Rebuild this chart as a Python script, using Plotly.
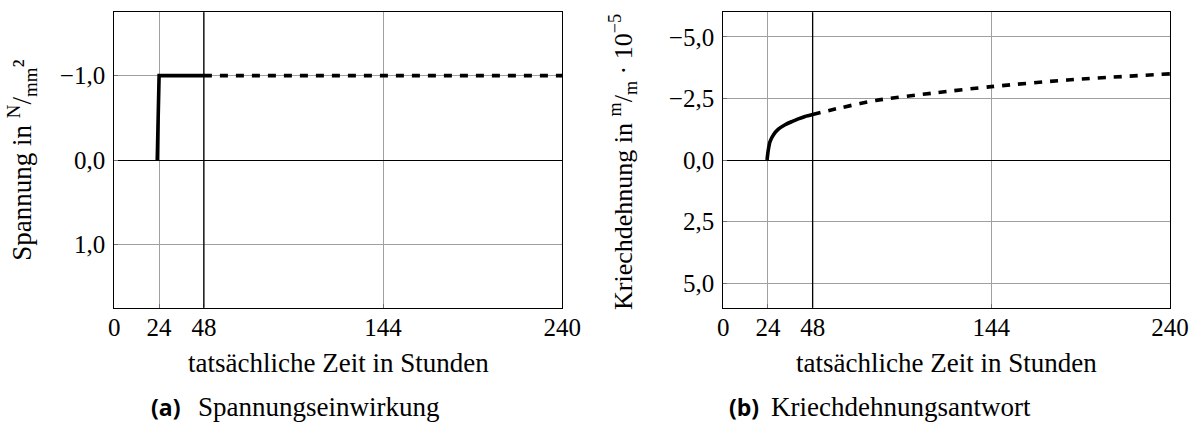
import plotly.graph_objects as go

# ---- data ----
x_tickvals = [0, 24, 48, 144, 240]
x_ticktext = ["0", "24", "48", "144", "240"]

stress_tickvals = [-1.0, 0.0, 1.0]
stress_ticktext = ["\u22121,0", "0,0", "1,0"]

creep_tickvals = [-5.0, -2.5, 0.0, 2.5, 5.0]
creep_ticktext = ["\u22125,0", "\u22122,5", "0,0", "2,5", "5,0"]

stress_t_solid = [23, 24, 48]
stress_solid = [0.0, -1.0, -1.0]
stress_t_dashed = [48, 240]
stress_dashed = [-1.0, -1.0]

creep_t_solid = [23.5, 24.2, 25.1, 26.9, 29.6, 33.2, 36.8, 40.3, 43.9, 48]
creep_solid = [0.0, -0.42, -0.75, -1.02, -1.25, -1.43, -1.56, -1.67, -1.77, -1.85]
creep_t_dashed = [48, 63, 82, 113, 144, 185, 240]
creep_dashed = [-1.85, -2.12, -2.42, -2.72, -2.98, -3.25, -3.5]

highlight_t = 48

W, H = 1197, 426
FONT = "Liberation Serif"

def px(v):
    return v / W

def py(v):
    return 1 - v / H

fig = go.Figure()

line_solid = dict(color="black", width=3.6)
line_dash = dict(color="black", width=3.6, dash="8px,8px")

fig.add_trace(go.Scatter(x=stress_t_solid, y=stress_solid, mode="lines", line=line_solid,
                         xaxis="x", yaxis="y", showlegend=False))
fig.add_trace(go.Scatter(x=stress_t_dashed, y=stress_dashed, mode="lines", line=line_dash,
                         xaxis="x", yaxis="y", showlegend=False))
fig.add_trace(go.Scatter(x=creep_t_solid, y=creep_solid, mode="lines",
                         line=dict(color="black", width=3.6, shape="spline", smoothing=0.8),
                         xaxis="x2", yaxis="y2", showlegend=False))
fig.add_trace(go.Scatter(x=creep_t_dashed, y=creep_dashed, mode="lines",
                         line=dict(color="black", width=3.6, dash="8px,8px", shape="spline", smoothing=0.8),
                         xaxis="x2", yaxis="y2", showlegend=False))

ydom = [py(307.7), py(12.3)]
tickfont = dict(family=FONT, size=25, color="black")
common_x = dict(range=[0, 240], tickmode="array", tickvals=x_tickvals, ticktext=x_ticktext,
                showgrid=True, gridcolor="#a0a0a0", gridwidth=1, zeroline=False,
                showline=True, linecolor="black", linewidth=1.3, mirror=True,
                ticks="inside", ticklen=4, tickcolor="#707070", tickfont=tickfont,
                ticklabelstandoff=-3, automargin=False)
common_y = dict(tickmode="array", showgrid=True, gridcolor="#a0a0a0", gridwidth=1,
                zeroline=True, zerolinecolor="black", zerolinewidth=1.3,
                showline=True, linecolor="black", linewidth=1.3, mirror=True,
                ticks="inside", ticklen=4, tickcolor="#707070", tickfont=tickfont,
                ticklabelstandoff=3, automargin=False)

fig.update_layout(
    width=W, height=H, margin=dict(l=0, r=0, t=0, b=0),
    paper_bgcolor="white", plot_bgcolor="white",
    font=dict(family=FONT, size=25, color="black"),
    xaxis=dict(domain=[px(114.3), px(562.3)], anchor="y", **common_x),
    yaxis=dict(domain=ydom, anchor="x", range=[1.75, -1.75],
               tickvals=stress_tickvals, ticktext=stress_ticktext, **common_y),
    xaxis2=dict(domain=[px(723.3), px(1170)], anchor="y2", **common_x),
    yaxis2=dict(domain=ydom, anchor="x2", range=[6, -6],
                tickvals=creep_tickvals, ticktext=creep_ticktext, **common_y),
)

for xr, yr in (("x", "y domain"), ("x2", "y2 domain")):
    fig.add_shape(type="line", xref=xr, yref=yr, x0=highlight_t, x1=highlight_t, y0=0, y1=1,
                  line=dict(color="black", width=1.3), layer="above")

tf = dict(family=FONT, size=27, color="black")
ann = []
# x-axis titles
ann.append(dict(text="tatsächliche Zeit in Stunden", x=px(338.3), y=py(363), xref="paper", yref="paper",
                xanchor="center", yanchor="middle", showarrow=False, font=tf))
ann.append(dict(text="tatsächliche Zeit in Stunden", x=px(946.6), y=py(363), xref="paper", yref="paper",
                xanchor="center", yanchor="middle", showarrow=False, font=tf))
# y-axis titles
ann.append(dict(text="Spannung in <sup>N</sup>/<sub>mm</sub>\u00b2", x=px(21.7), y=py(160),
                xref="paper", yref="paper", xanchor="center", yanchor="middle", textangle=-90,
                showarrow=False, font=tf))
ann.append(dict(text="Kriechdehnung in <sup>m</sup>/<sub>m</sub> · 10<sup>\u22125</sup>", x=px(623),
                y=py(162), xref="paper", yref="paper", xanchor="center", yanchor="middle",
                textangle=-90, showarrow=False, font=dict(family=FONT, size=26, color="black")))
# captions
cap_bold = dict(family="Open Sans", size=23, color="black")
ann.append(dict(text="<b>(a)</b>", x=px(149), y=py(407), xref="paper", yref="paper",
                xanchor="left", yanchor="middle", showarrow=False, font=cap_bold))
ann.append(dict(text="Spannungseinwirkung", x=px(196), y=py(407), xref="paper", yref="paper",
                xanchor="left", yanchor="middle", showarrow=False, font=tf))
ann.append(dict(text="<b>(b)</b>", x=px(727), y=py(407), xref="paper", yref="paper",
                xanchor="left", yanchor="middle", showarrow=False, font=cap_bold))
ann.append(dict(text="Kriechdehnungsantwort", x=px(769), y=py(407), xref="paper", yref="paper",
                xanchor="left", yanchor="middle", showarrow=False, font=tf))
fig.update_layout(annotations=ann)

fig.write_html("out.html")
